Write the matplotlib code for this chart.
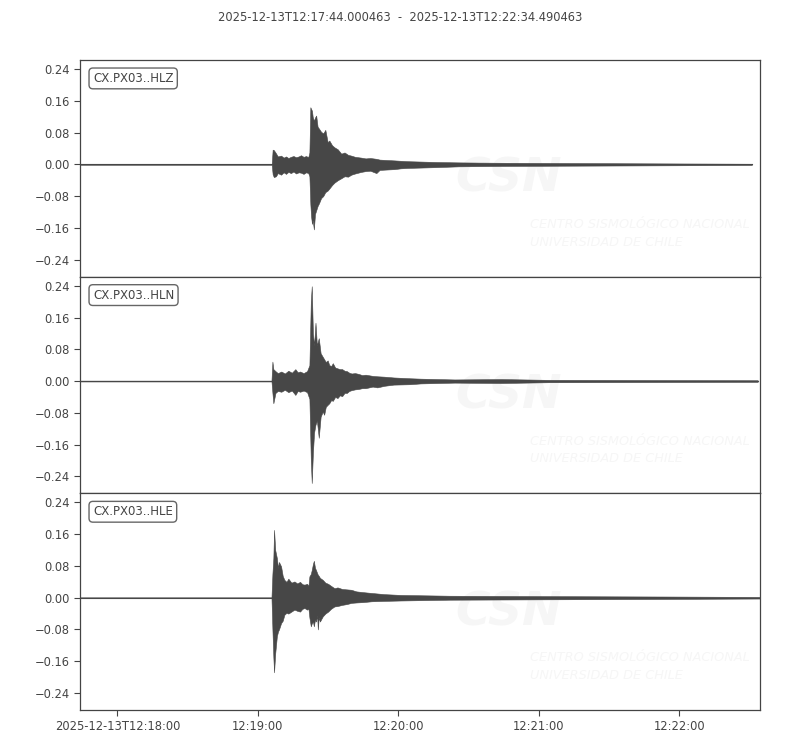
import datetime as dt
import numpy as np
import matplotlib
matplotlib.use("Agg")
import matplotlib.pyplot as plt
import matplotlib.dates as mdates

# trace start / end
start = dt.datetime(2025, 12, 13, 12, 17, 44, 463)
duration = 290.49
title = "2025-12-13T12:17:44.000463  -  2025-12-13T12:22:34.490463"

channels = ["CX.PX03..HLZ", "CX.PX03..HLN", "CX.PX03..HLE"]

# envelopes: (seconds after start, upper, lower)
hlz = [
    (0, .001, -.001), (81.9, .001, -.001), (82.3, .037, -.025), (82.8, .036, -.032),
    (83.7, .028, -.030), (84.5, .020, -.022), (85.9, .022, -.026), (87.0, .017, -.020),
    (88.0, .020, -.024), (89.0, .016, -.019), (90.1, .019, -.022), (91.2, .021, -.018),
    (92.3, .018, -.023), (93.4, .020, -.020), (94.4, .023, -.021), (95.5, .019, -.024),
    (96.6, .021, -.020), (97.5, .018, -.022), (98.0, .030, -.030), (98.4, .144, -.100),
    (98.7, .140, -.130), (99.1, .135, -.150), (99.4, .120, -.140), (99.9, .110, -.164),
    (100.4, .118, -.125), (100.9, .123, -.116), (101.5, .095, -.105), (102.1, .090, -.098),
    (103.0, .082, -.085), (103.9, .078, -.080), (104.8, .087, -.070), (105.8, .056, -.066),
    (106.5, .060, -.061), (107.7, .048, -.052), (108.7, .043, -.046), (110.1, .038, -.040),
    (111.6, .027, -.035), (113.0, .030, -.030), (114.5, .024, -.031), (115.9, .022, -.026),
    (117.5, .019, -.023), (120.1, .017, -.019), (122.0, .015, -.017), (124.0, .016, -.016),
    (126.6, .014, -.022), (128.0, .012, -.014), (131.0, .011, -.013), (134.3, .010, -.012),
    (137.0, .009, -.010), (140.0, .008, -.009), (145.9, .007, -.008), (152.0, .006, -.007),
    (161.7, .005, -.005), (170.0, .0045, -.0045), (180.0, .004, -.004), (200.0, .0035, -.0035),
    (223.0, .003, -.003), (245.0, .0025, -.0025), (266.0, .002, -.002), (287.0, .0015, -.0015),
]
hln = [
    (0, .001, -.001), (81.8, .001, -.001), (82.2, .049, -.030), (82.6, .030, -.056),
    (83.5, .025, -.030), (84.5, .020, -.025), (86, .024, -.027), (87.5, .019, -.022),
    (89, .026, -.028), (90.5, .021, -.024), (92, .030, -.035), (93, .022, -.025),
    (94, .024, -.027), (95.5, .020, -.024), (97, .025, -.028), (98.0, .040, -.045),
    (98.6, .200, -.200), (99.0, .239, -.257), (99.5, .120, -.180), (100.0, .090, -.130),
    (100.6, .147, -.110), (101.2, .090, -.100), (102.0, .108, -.143), (102.8, .070, -.090),
    (103.7, .061, -.077), (104.3, .055, -.085), (105, .048, -.065), (105.8, .052, -.060),
    (106.5, .040, -.056), (107.3, .038, -.048), (108, .045, -.050), (109, .034, -.040),
    (110, .032, -.043), (111, .030, -.036), (112, .030, -.038), (113, .026, -.030),
    (114, .025, -.030), (115, .021, -.025), (116, .019, -.023), (117.5, .020, -.021),
    (119, .018, -.020), (120.5, .015, -.018), (122, .016, -.018), (125, .013, -.014),
    (127, .012, -.016), (130, .011, -.012), (134, .009, -.009), (141, .007, -.008),
    (145.5, .006, -.006), (160, .004, -.004), (180, .005, -.005), (200, .003, -.003),
    (240, .0025, -.0025), (289.5, .002, -.002),
]
hle = [
    (0, .001, -.001), (81.8, .001, -.001), (82.2, .060, -.080), (82.6, .100, -.150),
    (82.9, .171, -.188), (83.4, .120, -.140), (84.1, .100, -.097), (84.6, .075, -.085),
    (85.0, .090, -.080), (85.9, .079, -.064), (86.6, .055, -.058), (87.3, .045, -.043),
    (88.2, .040, -.038), (89, .048, -.040), (90.3, .038, -.035), (91.6, .041, -.030),
    (92.8, .036, -.033), (94, .040, -.035), (95.0, .034, -.028), (95.9, .033, -.026),
    (97, .035, -.030), (97.6, .030, -.028), (98.0, .054, -.050), (98.6, .060, -.072),
    (99.0, .070, -.065), (99.5, .085, -.060), (99.9, .093, -.072), (100.4, .075, -.055),
    (100.8, .070, -.060), (101.3, .062, -.045), (101.6, .058, -.080), (102.0, .055, -.050),
    (102.5, .050, -.060), (103.7, .045, -.047), (104.8, .038, -.040), (106, .035, -.035),
    (107.2, .030, -.028), (108.7, .024, -.022), (110, .026, -.021), (112, .022, -.018),
    (114, .021, -.016), (115.9, .020, -.013), (118, .016, -.012), (121, .014, -.011),
    (124.5, .012, -.009), (130, .009, -.008), (137, .007, -.007), (158, .005, -.005),
    (200, .004, -.004), (250, .003, -.003), (290.49, .002, -.002),
]
envelopes = [hlz, hln, hle]

yticks = [-0.24, -0.16, -0.08, 0.00, 0.08, 0.16, 0.24]
xtick_times = ["12:18:00", "12:19:00", "12:20:00", "12:21:00", "12:22:00"]
xtick_labels = ["2025-12-13T12:18:00", "12:19:00", "12:20:00", "12:21:00", "12:22:00"]

grey = "#474747"
text_grey = "#444444"
mark = "#f6f6f6"


def to_num(secs):
    return mdates.date2num([start + dt.timedelta(seconds=float(s)) for s in secs])


fig = plt.figure(figsize=(8, 7.5), dpi=100)
fig.subplots_adjust(left=0.1, right=0.95, top=0.92, bottom=0.0533, hspace=0)
axes = fig.subplots(3, 1, sharex=True)

x0, x1 = to_num([0, duration])
tick_pos = mdates.date2num([dt.datetime.combine(start.date(), dt.time.fromisoformat(s))
                            for s in xtick_times])

for ax, name, env in zip(axes, channels, envelopes):
    t, up, lo = map(np.array, zip(*env))
    x = to_num(t)
    ax.fill_between(x, lo, up, color=grey, lw=0.4, edgecolor=grey, zorder=3)
    ax.plot(x, np.zeros(len(x)), color=grey, lw=0.8, zorder=3)

    # faint CSN watermark
    ax.text(0.552, 0.45, "CSN", transform=ax.transAxes, fontsize=34, fontweight="bold",
            style="italic", color=mark, ha="left", va="center", zorder=1)
    ax.text(0.662, 0.20, "CENTRO SISMOLÓGICO NACIONAL\nUNIVERSIDAD DE CHILE",
            transform=ax.transAxes, fontsize=9.3, style="italic", color=mark,
            ha="left", va="center", linespacing=1.45, zorder=1)

    ax.text(0.019, 0.945, name, transform=ax.transAxes, fontsize=8.5, color=text_grey,
            ha="left", va="top", zorder=5,
            bbox=dict(boxstyle="round,pad=0.33", fc="white", ec="#666666", lw=1.0))

    ax.set_xlim(x0, x1)
    ax.set_ylim(-0.283, 0.263)
    ax.set_yticks(yticks)
    ax.yaxis.set_major_formatter(plt.FuncFormatter(lambda v, p: f"{v:.2f}".replace("-", "\u2212")))
    for s in ax.spines.values():
        s.set_color(text_grey)
        s.set_linewidth(0.9)
    ax.tick_params(axis="both", colors=text_grey, labelsize=8.3, length=4, width=0.8,
                   direction="out")
    ax.tick_params(axis="x", bottom=False, labelbottom=False)

axes[-1].set_xticks(tick_pos, xtick_labels)
axes[-1].tick_params(axis="x", bottom=True, labelbottom=True)

fig.suptitle(title, y=0.985, fontsize=8.3, color=text_grey)
fig.savefig("out.png", dpi=100)
